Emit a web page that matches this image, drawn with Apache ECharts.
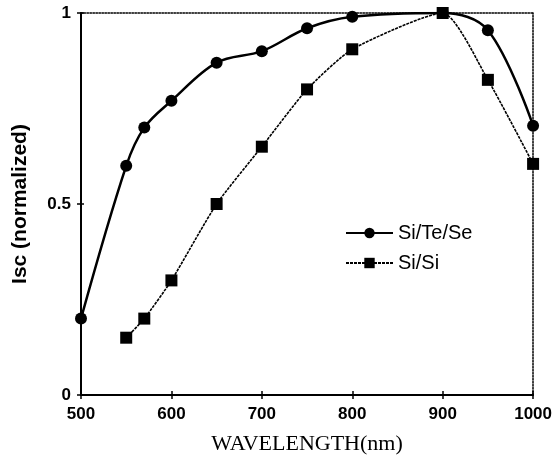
<!DOCTYPE html>
<html>
<head>
<meta charset="utf-8">
<script src="https://cdn.jsdelivr.net/npm/echarts@6/dist/echarts.min.js"></script>
<style>html,body{margin:0;padding:0;background:#fff;}#c{width:555px;height:460px;}</style>
</head>
<body>
<div id="c"></div>
<script>
var wavelengthsA = [500, 550, 570, 600, 650, 700, 750, 800, 900, 950, 1000];
var siTeSe = [0.20, 0.60, 0.70, 0.77, 0.87, 0.90, 0.96, 0.99, 1.00, 0.955, 0.705];
var wavelengthsB = [550, 570, 600, 650, 700, 750, 800, 900, 950, 1000];
var siSi = [0.15, 0.20, 0.30, 0.50, 0.65, 0.80, 0.905, 1.00, 0.825, 0.605];
var seriesNames = ['Si/Te/Se', 'Si/Si'];
var xTitle = 'WAVELENGTH(nm)';
var yTitle = 'Isc (normalized)';

function pairs(xs, ys) { return xs.map(function (x, i) { return [x, ys[i]]; }); }

var chart = echarts.init(document.getElementById('c'), null, {renderer: 'canvas'});
var lbl = {color: '#000', fontFamily: 'Liberation Sans, Arial', fontWeight: 'bold', fontSize: 17,
  formatter: function (v) { return String(v); }};
chart.setOption({
  animation: false,
  backgroundColor: '#fff',
  grid: {left: 81, right: 21, top: 13, bottom: 64, containLabel: false},
  legend: {
    orient: 'vertical', left: 340, top: 218, itemGap: 10,
    itemWidth: 47, itemHeight: 13,
    textStyle: {color: '#000', fontSize: 20, fontFamily: 'Liberation Sans, Arial'},
    data: seriesNames
  },
  xAxis: [{
    type: 'value', min: 500, max: 1000, interval: 100, position: 'bottom',
    name: xTitle, nameLocation: 'middle', nameGap: 38,
    nameTextStyle: {color: '#000', fontFamily: 'Liberation Serif, Times New Roman', fontSize: 22},
    axisLine: {show: true, onZero: false, lineStyle: {color: '#000', width: 2}},
    axisTick: {show: true, length: 4, lineStyle: {color: '#000', width: 1.5}},
    axisLabel: Object.assign({margin: 11}, lbl),
    splitLine: {show: false}
  }, {
    type: 'value', min: 500, max: 1000, interval: 100, position: 'bottom', offset: 0,
    axisLine: {show: false, onZero: false},
    axisTick: {show: true, inside: true, length: 4, lineStyle: {color: '#000', width: 1.5}},
    axisLabel: {show: false}, splitLine: {show: false}
  }, {
    type: 'value', min: 500, max: 1000, position: 'top',
    axisLine: {show: true, onZero: false, lineStyle: {color: '#000', width: 1.5, type: 'dotted'}},
    axisTick: {show: false}, axisLabel: {show: false}, splitLine: {show: false}
  }],
  yAxis: [{
    type: 'value', min: 0, max: 1, interval: 0.5, position: 'left',
    name: yTitle, nameLocation: 'middle', nameGap: 50, nameRotate: 90,
    nameTextStyle: {color: '#000', fontFamily: 'Liberation Sans, Arial', fontWeight: 'bold', fontSize: 21},
    axisLine: {show: true, onZero: false, lineStyle: {color: '#000', width: 2}},
    axisTick: {show: true, length: 4, lineStyle: {color: '#000', width: 1.5}},
    axisLabel: Object.assign({margin: 10}, lbl),
    splitLine: {show: false}
  }, {
    type: 'value', min: 0, max: 1, interval: 0.5, position: 'left', offset: 0,
    axisLine: {show: false, onZero: false},
    axisTick: {show: true, inside: true, length: 3, lineStyle: {color: '#000', width: 1.5}},
    axisLabel: {show: false}, splitLine: {show: false}
  }, {
    type: 'value', min: 0, max: 1, position: 'right',
    axisLine: {show: true, onZero: false, lineStyle: {color: '#000', width: 1.5, type: 'dotted'}},
    axisTick: {show: false}, axisLabel: {show: false}, splitLine: {show: false}
  }],
  series: [{
    name: seriesNames[0], type: 'line', data: pairs(wavelengthsA, siTeSe),
    smooth: 0.35, symbol: 'circle', symbolSize: 12, showSymbol: true,
    lineStyle: {color: '#000', width: 2.5},
    itemStyle: {color: '#000', borderWidth: 0},
    z: 3
  }, {
    name: seriesNames[1], type: 'line', data: pairs(wavelengthsB, siSi),
    smooth: 0.2, symbol: 'rect', symbolSize: 12, showSymbol: true,
    lineStyle: {color: '#000', width: 1.6, type: [3, 1]},
    itemStyle: {color: '#000', borderWidth: 0},
    z: 4
  }]
});
</script>
</body>
</html>
